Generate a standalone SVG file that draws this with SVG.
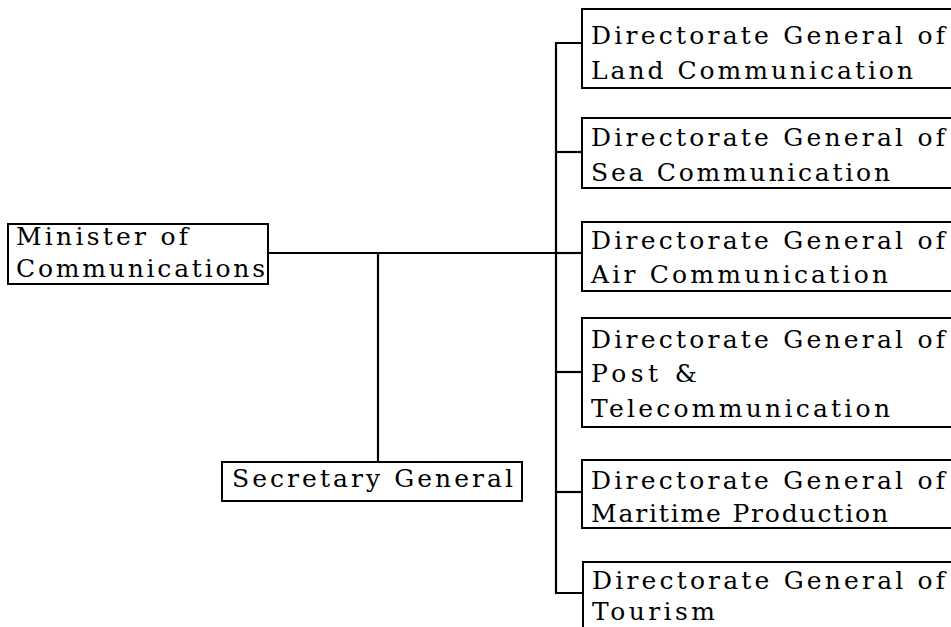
<svg xmlns="http://www.w3.org/2000/svg" width="951" height="627" viewBox="0 0 951 627">
<style>
.box{fill:#fff;stroke:#000;stroke-width:2}
.t{font-family:"DejaVu Serif","Liberation Serif",serif;font-size:25px;fill:#000}
.c{fill:none;stroke:#000;stroke-width:2.2}
</style>
<rect width="951" height="627" fill="#fff"/>
<g id="connectors">
<polyline class="c" points="268,253 556,253"/>
<polyline class="c" points="378,253 378,462"/>
<polyline class="c" points="582,43 556,43 556,593 583,593"/>
<line class="c" x1="556" y1="152" x2="582" y2="152"/>
<line class="c" x1="556" y1="253" x2="582" y2="253"/>
<line class="c" x1="556" y1="372" x2="582" y2="372"/>
<line class="c" x1="556" y1="492" x2="582" y2="492"/>
</g>
<g id="minister">
<rect class="box" x="8" y="224" width="260" height="60"/>
<text class="t" x="16" y="245" textLength="172" lengthAdjust="spacing">Minister of</text>
<text class="t" x="16" y="277" textLength="249" lengthAdjust="spacing">Communications</text>
</g>
<g id="secretary">
<rect class="box" x="222" y="462" width="300" height="39"/>
<text class="t" x="232" y="487" textLength="281" lengthAdjust="spacing">Secretary General</text>
</g>
<g id="land">
<rect class="box" x="582" y="9" width="380" height="79"/>
<text class="t" x="591" y="44" textLength="354" lengthAdjust="spacing">Directorate General of</text>
<text class="t" x="591" y="79" textLength="322" lengthAdjust="spacing">Land Communication</text>
</g>
<g id="sea">
<rect class="box" x="582" y="118" width="380" height="70"/>
<text class="t" x="591" y="146" textLength="354" lengthAdjust="spacing">Directorate General of</text>
<text class="t" x="591" y="181" textLength="299" lengthAdjust="spacing">Sea Communication</text>
</g>
<g id="air">
<rect class="box" x="582" y="222" width="380" height="69"/>
<text class="t" x="591" y="249" textLength="354" lengthAdjust="spacing">Directorate General of</text>
<text class="t" x="591" y="283" textLength="297" lengthAdjust="spacing">Air Communication</text>
</g>
<g id="post">
<rect class="box" x="582" y="318" width="380" height="109"/>
<text class="t" x="591" y="348" textLength="354" lengthAdjust="spacing">Directorate General of</text>
<text class="t" x="591" y="382" textLength="106" lengthAdjust="spacing">Post &amp;</text>
<text class="t" x="591" y="417" textLength="299" lengthAdjust="spacing">Telecommunication</text>
</g>
<g id="maritime">
<rect class="box" x="582" y="460" width="380" height="68"/>
<text class="t" x="591" y="489" textLength="354" lengthAdjust="spacing">Directorate General of</text>
<text class="t" x="591" y="522" textLength="297" lengthAdjust="spacing">Maritime Production</text>
</g>
<g id="tourism">
<rect class="box" x="583" y="562" width="380" height="80"/>
<text class="t" x="592" y="589" textLength="353" lengthAdjust="spacing">Directorate General of</text>
<text class="t" x="592" y="620" textLength="123" lengthAdjust="spacing">Tourism</text>
</g>
</svg>
